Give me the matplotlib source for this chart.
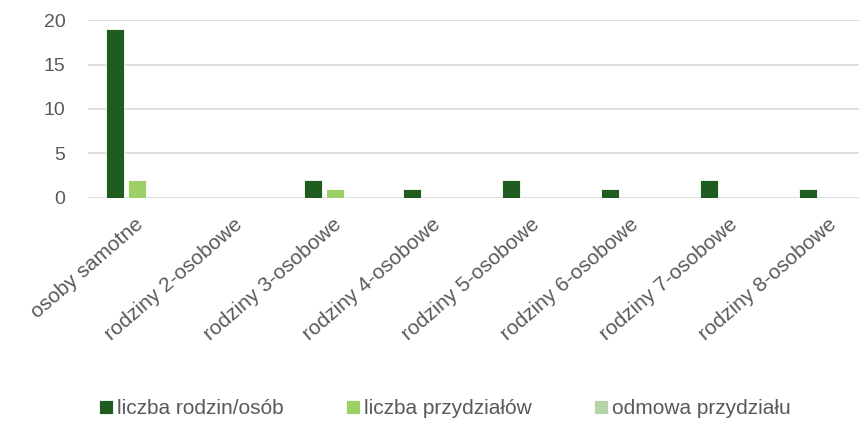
import numpy as np
import matplotlib.pyplot as plt
from matplotlib.transforms import ScaledTranslation

plt.rcParams['font.family'] = ['Liberation Sans', 'DejaVu Sans']

categories = ['osoby samotne', 'rodziny 2-osobowe', 'rodziny 3-osobowe', 'rodziny 4-osobowe',
              'rodziny 5-osobowe', 'rodziny 6-osobowe', 'rodziny 7-osobowe', 'rodziny 8-osobowe']
liczba_rodzin = [19, 0, 2, 1, 2, 1, 2, 1]
liczba_przydzialow = [2, 0, 1, 0, 0, 0, 0, 0]
odmowa_przydzialu = [0, 0, 0, 0, 0, 0, 0, 0]

series = [
    ('liczba rodzin/osób', liczba_rodzin, '#1E5C20'),
    ('liczba przydziałów', liczba_przydzialow, '#9CCF65'),
    ('odmowa przydziału', odmowa_przydzialu, '#B5D3A8'),
]

fig = plt.figure(figsize=(8.59, 4.22), dpi=100)
# the source chart is cropped on the right, so the axes run past the figure edge
ax = fig.add_axes([0.1019, 0.531, 0.922, 0.4215])

x = np.arange(len(categories))
width = 0.175
offsets = [-0.222, 0.0, 0.222]
for (label, vals, color), off in zip(series, offsets):
    ax.bar(x + off, vals, width, color=color, edgecolor='white', linewidth=0.6, label=label, zorder=3)

ax.set_xlim(-0.5, len(categories) - 0.5)
ax.set_ylim(0, 20)
ax.set_yticks([0, 5, 10, 15, 20])
ax.yaxis.grid(True, color='#D9D9D9', linewidth=1.2, zorder=0)
for s in ax.spines.values():
    s.set_visible(False)
ax.tick_params(axis='both', length=0, labelsize=14, colors='#595959')
ax.tick_params(axis='y', pad=16)
ax.set_xticks(x)
ax.set_xticklabels(categories, rotation=41, ha='right', va='top', rotation_mode='anchor', fontsize=15)
ax.tick_params(axis='x', pad=12)
shift = ScaledTranslation(-2 / 72, 0, fig.dpi_scale_trans)
for t in ax.get_xticklabels():
    t.set_transform(t.get_transform() + shift)

handles, labels = ax.get_legend_handles_labels()
leg = fig.legend(handles, labels, loc='lower center', ncol=3, bbox_to_anchor=(0.518, -0.035),
                 frameon=False, fontsize=15, handlelength=0.65, handleheight=0.65,
                 handletextpad=0.2, columnspacing=3.0)
for t in leg.get_texts():
    t.set_color('#595959')

fig.savefig('out.png', dpi=100)
